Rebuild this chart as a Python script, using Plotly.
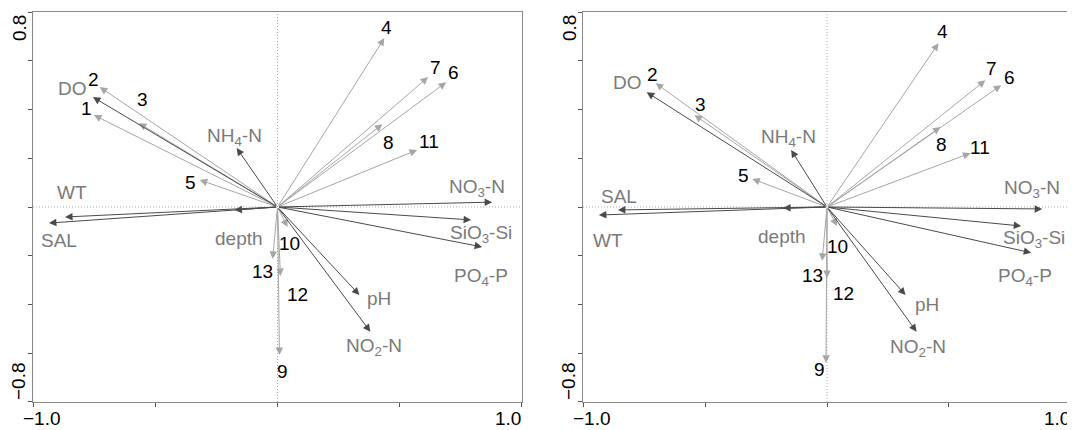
import plotly.graph_objects as go
from plotly.subplots import make_subplots

# species scores (arrow tips), left panel
sp_left = ['1', '2', '3', '4', '5', '6', '7', '8', '9', '10', '11', '12', '13']
sp_left_x = [-0.751, -0.727, -0.567, 0.437, -0.318, 0.690, 0.616, 0.429, 0.008, 0.041, 0.571, 0.012, -0.020]
sp_left_y = [0.377, 0.492, 0.344, 0.693, 0.111, 0.512, 0.533, 0.340, -0.607, -0.082, 0.234, -0.283, -0.213]

# environmental variables
env = ['WT', 'SAL', 'DO', 'NH<sub>4</sub>-N', 'NO<sub>3</sub>-N', 'SiO<sub>3</sub>-Si',
       'PO<sub>4</sub>-P', 'pH', 'NO<sub>2</sub>-N', 'depth']
env_left_x = [-0.869, -0.935, -0.755, -0.167, 0.878, 0.792, 0.837, 0.335, 0.380, -0.176]
env_left_y = [-0.041, -0.066, 0.451, 0.242, 0.020, -0.053, -0.164, -0.361, -0.512, -0.012]

# right panel
sp_right = ['2', '3', '4', '5', '6', '7', '8', '9', '10', '11', '12', '13']
sp_right_x = [-0.702, -0.543, 0.457, -0.306, 0.714, 0.649, 0.465, -0.004, 0.041, 0.588, 0.000, -0.020]
sp_right_y = [0.508, 0.377, 0.672, 0.115, 0.500, 0.520, 0.328, -0.639, -0.078, 0.221, -0.291, -0.221]
env_right_x = [-0.935, -0.857, -0.739, -0.147, 0.882, 0.796, 0.837, 0.322, 0.367, -0.180]
env_right_y = [-0.033, -0.012, 0.471, 0.234, -0.008, -0.078, -0.188, -0.361, -0.512, -0.004]

# label pixel offsets from arrow tip (dx, dy up)
off_sp_left = {'1': (-7, 7), '2': (-6, 8), '3': (4, 24), '4': (2, 11), '5': (-9, -3), '6': (7, 10),
               '7': (7, 10), '8': (6, -18), '9': (3, -17), '10': (2, -17), '11': (12, 8),
               '12': (17, -19), '13': (-10, -13)}
off_env_left = [(7, 24), (10, -17), (-20, 9), (-2, 11), (-15, 14), (10, -14), (-1, -30), (20, -4), (4, -15), (5, -29)]
off_sp_right = {'2': (-3, 9), '3': (6, 11), '4': (4, 12), '5': (-9, 3), '6': (8, 8), '7': (6, 12),
                '8': (1, -17), '9': (-7, -7), '10': (0, -20), '11': (10, 6), '12': (16, -16), '13': (-10, -15)}
off_env_right = [(9, -25), (1, 13), (-19, 10), (-3, 12), (-10, 20), (13, -13), (-6, -24), (21, -10), (1, -16), (-1, -29)]

SP_COL = '#a6a6a6'
ENV_COL = '#4a4a4a'
ENV_TXT = '#7a7a7a'
FONT = 'Liberation Sans, Arial, sans-serif'

fig = make_subplots(rows=1, cols=2)


def add_panel(col, names, xs, ys, offs, line_col, txt_col):
    xr = 'x' if col == 1 else 'x2'
    yr = 'y' if col == 1 else 'y2'
    for i, (n, x, y) in enumerate(zip(names, xs, ys)):
        fig.add_annotation(x=x, y=y, ax=0, ay=0, xref=xr, yref=yr, axref=xr, ayref=yr,
                           showarrow=True, arrowhead=2, arrowsize=1.5, arrowwidth=1,
                           arrowcolor=line_col, text='')
        dx, dy = offs[n] if isinstance(offs, dict) else offs[i]
        fig.add_annotation(x=x, y=y, xref=xr, yref=yr, text=n, showarrow=False,
                           xshift=dx, yshift=dy, xanchor='center', yanchor='middle',
                           font=dict(family=FONT, size=19, color=txt_col))


for col in (1, 2):
    xr = 'x' if col == 1 else 'x2'
    yr = 'y' if col == 1 else 'y2'
    fig.add_shape(type='line', x0=-1, x1=1, y0=0, y1=0, xref=xr, yref=yr,
                  line=dict(color='#a8a8a8', width=1, dash='1px,2px'))
    fig.add_shape(type='line', x0=0, x1=0, y0=-0.8, y1=0.8, xref=xr, yref=yr,
                  line=dict(color='#a8a8a8', width=1, dash='1px,2px'))
    # end tick labels, set inward like the original
    tf = dict(family=FONT, size=19, color='black')
    fig.add_annotation(x=-1, y=-0.8, xref=xr, yref=yr, text='−1.0', showarrow=False,
                       xanchor='center', yanchor='top', xshift=9, yshift=-4, font=tf)
    fig.add_annotation(x=1, y=-0.8, xref=xr, yref=yr, text='1.0', showarrow=False,
                       xanchor='right', yanchor='top', xshift=1, yshift=-4, font=tf)
    fig.add_annotation(x=-1, y=0.8, xref=xr, yref=yr, text='0.8', showarrow=False, textangle=-90,
                       xanchor='center', yanchor='top', xshift=-14, yshift=-1, font=tf)
    fig.add_annotation(x=-1, y=-0.8, xref=xr, yref=yr, text='−0.8', showarrow=False, textangle=-90,
                       xanchor='center', yanchor='bottom', xshift=-14, yshift=0, font=tf)

add_panel(1, sp_left, sp_left_x, sp_left_y, off_sp_left, SP_COL, 'black')
add_panel(1, env, env_left_x, env_left_y, off_env_left, ENV_COL, ENV_TXT)
add_panel(2, sp_right, sp_right_x, sp_right_y, off_sp_right, SP_COL, 'black')
add_panel(2, env, env_right_x, env_right_y, off_env_right, ENV_COL, ENV_TXT)

# invisible traces so the axes are drawn
fig.add_trace(go.Scatter(x=[0], y=[0], mode='markers', marker=dict(opacity=0), hoverinfo='skip'), row=1, col=1)
fig.add_trace(go.Scatter(x=[0], y=[0], mode='markers', marker=dict(opacity=0), hoverinfo='skip'), row=1, col=2)

xt = [-1, -0.5, 0, 0.5, 1]
yt = [-0.8, -0.6, -0.4, -0.2, 0, 0.2, 0.4, 0.6, 0.8]

axis_x = dict(range=[-1.0001, 1.0001], tickvals=xt, showticklabels=False, ticks='outside', ticklen=4,
              tickcolor='#555', showgrid=False, zeroline=False, showline=True, linecolor='#888',
              mirror=True, automargin=False)
axis_y = dict(range=[-0.8001, 0.8001], tickvals=yt, showticklabels=False, ticks='outside', ticklen=4,
              tickcolor='#555', showgrid=False, zeroline=False, showline=True, linecolor='#888',
              mirror=True, automargin=False)

# the page body adds 8px around the figure, so the figure is 8px smaller
W, H = 1067, 422
fig.update_layout(
    width=W, height=H, showlegend=False,
    margin=dict(l=0, r=0, t=0, b=0),
    plot_bgcolor='white', paper_bgcolor='white',
    xaxis=dict(axis_x, domain=[25 / W, 514 / W]),
    xaxis2=dict(axis_x, domain=[575 / W, 1063 / W]),
    yaxis=dict(axis_y, domain=[28 / H, 418 / H]),
    yaxis2=dict(axis_y, domain=[28 / H, 418 / H]),
)

fig.write_html("out.html")
